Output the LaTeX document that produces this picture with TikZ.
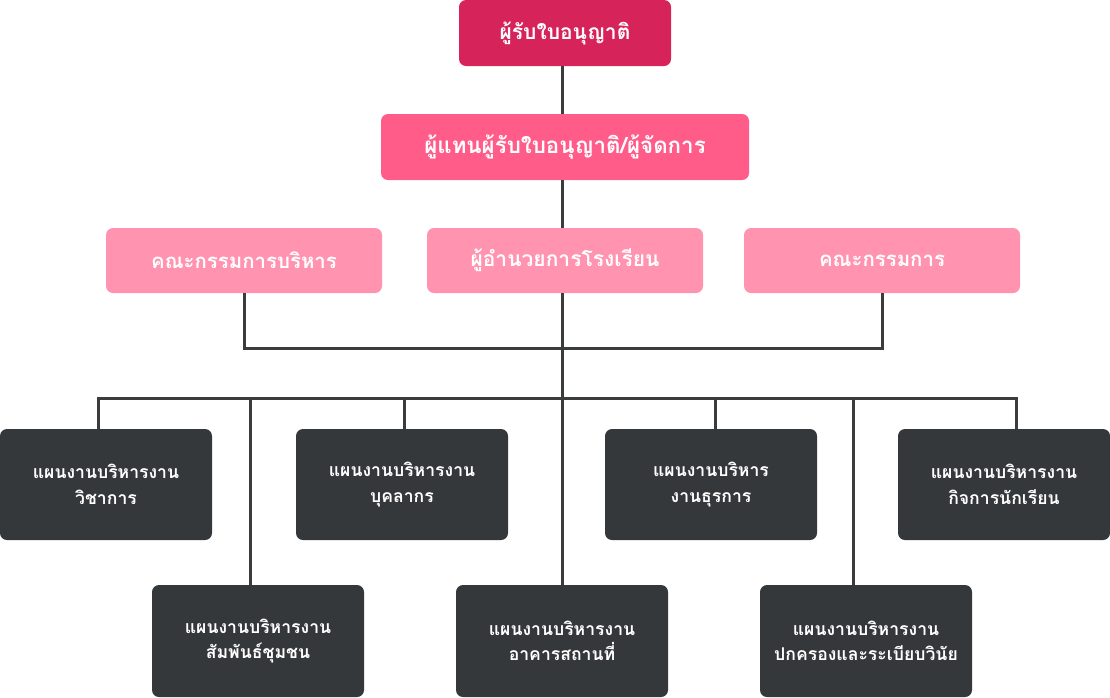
\documentclass[tikz,border=0pt]{standalone}
\usepackage{fontspec}
\newfontfamily\thai[Script=Thai]{Loma}
\definecolor{cTop}{HTML}{D6245A}
\definecolor{cSecond}{HTML}{FF5C8A}
\definecolor{cThird}{HTML}{FF93B0}
\definecolor{cDark}{HTML}{35383B}
\definecolor{cLine}{HTML}{3A3C3E}
\tikzset{
  box/.style={rounded corners=7pt, inner sep=0pt, text=white, align=center, font=\thai\bfseries},
  pinkbox/.style={box, minimum height=66pt, font=\thai\bfseries\fontsize{20.4}{24}\selectfont},
  darkbox/.style={box, fill=cDark, minimum width=212pt, minimum height=111pt, font=\thai\bfseries\fontsize{17.6}{25.5}\selectfont},
  conn/.style={draw=cLine, line width=3pt}
}
\begin{document}
\begin{tikzpicture}[x=1pt,y=-1pt]
\useasboundingbox (0,0) rectangle (1110,697);
\node[pinkbox, fill=cTop, minimum width=212pt, font=\thai\bfseries\fontsize{21}{24}\selectfont] (top) at (565,33) {ผู้รับใบอนุญาติ};
\node[pinkbox, fill=cSecond, minimum width=368pt, font=\thai\bfseries\fontsize{22.3}{26}\selectfont] (second) at (565,147) {ผู้แทนผู้รับใบอนุญาติ/ผู้จัดการ};
\node[pinkbox, fill=cThird, minimum width=276pt, minimum height=65pt] (left) at (244,260.5) {คณะกรรมการบริหาร};
\node[pinkbox, fill=cThird, minimum width=276pt, minimum height=65pt, font=\thai\bfseries\fontsize{21}{24}\selectfont] (mid) at (565,260.5) {ผู้อำนวยการโรงเรียน};
\node[pinkbox, fill=cThird, minimum width=276pt, minimum height=65pt] (right) at (882,260.5) {คณะกรรมการ};

\node[darkbox] (d1) at (106,484.5) {แผนงานบริหารงาน\\วิชาการ};
\node[darkbox] (d2) at (402,484.5) {แผนงานบริหารงาน\\บุคลากร};
\node[darkbox] (d3) at (711,484.5) {แผนงานบริหาร\\งานธุรการ};
\node[darkbox] (d4) at (1004,484.5) {แผนงานบริหารงาน\\กิจการนักเรียน};
\node[darkbox, minimum height=112pt] (e1) at (258,641) {แผนงานบริหารงาน\\สัมพันธ์ชุมชน};
\node[darkbox, minimum height=112pt] (e2) at (562,641) {แผนงานบริหารงาน\\อาคารสถานที่};
\node[darkbox, minimum height=112pt] (e3) at (866,641) {แผนงานบริหารงาน\\ปกครองและระเบียบวินัย};

\coordinate (s1) at (562,66);
\coordinate (s2) at (562,114);
\coordinate (s3) at (562,180);
\coordinate (s4) at (562,228);
\coordinate (s5) at (562,293);
\coordinate (br) at (562,348);
\coordinate (busL) at (98,398);
\coordinate (busR) at (1016,398);
\coordinate (b2) at (250,398);
\coordinate (b3) at (404,398);
\coordinate (b5) at (715,398);
\coordinate (b6) at (853,398);

\draw[conn] (s1) -- (s2);
\draw[conn] (s3) -- (s4);
\draw[conn] (s5) -- (s5 |- e2.north);
\draw[conn] (left.south) |- (br) -| (right.south);
\draw[conn, line cap=rect] (busL) -- (busR);
\draw[conn] (busL) -- (busL |- d1.north);
\draw[conn] (b3) -- (b3 |- d2.north);
\draw[conn] (b5) -- (b5 |- d3.north);
\draw[conn] (busR) -- (busR |- d4.north);
\draw[conn] (b2) -- (b2 |- e1.north);
\draw[conn] (b6) -- (b6 |- e3.north);
\end{tikzpicture}
\end{document}
